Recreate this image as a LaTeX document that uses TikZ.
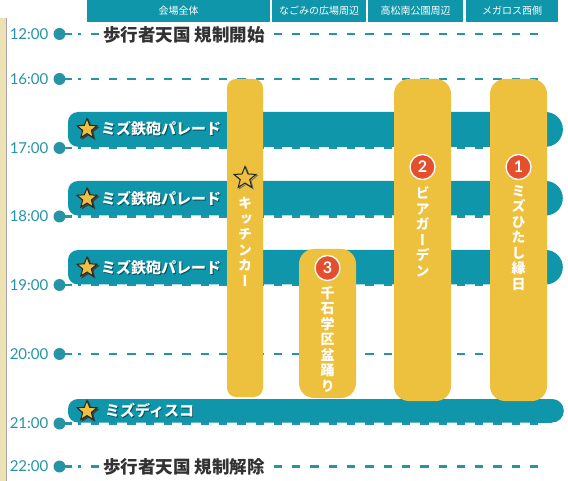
\documentclass[tikz,border=0pt]{standalone}
\usepackage{fontspec}
\setmainfont{Lato}
\newfontfamily\jp{Noto Sans CJK JP}
\newfontfamily\jpv{Noto Sans CJK JP}[RawFeature=+vert]
\usetikzlibrary{shapes.geometric}
\definecolor{tealC}{RGB}{16,150,170}
\definecolor{tealD}{RGB}{38,148,164}
\definecolor{yel}{RGB}{237,193,62}
\definecolor{redC}{RGB}{228,80,46}
\definecolor{beigeC}{RGB}{236,226,180}
\definecolor{darkT}{RGB}{50,50,50}
\definecolor{shadowT}{RGB}{0,80,90}
\begin{document}
\begin{tikzpicture}[x=1pt,y=-1pt,
  hdr/.style={fill=tealC, draw=none, inner sep=0, anchor=north west, minimum height=22pt,
              text=white, font=\jp\fontsize{10}{12}\selectfont},
  timelbl/.style={anchor=east, inner sep=0, text=tealD, font=\fontsize{15}{17}\selectfont},
  tdot/.style={circle, fill=tealD, minimum size=12pt, inner sep=0},
  dline/.style={tealD, line width=2.5pt, dash pattern=on 8.3pt off 10pt},
  sline/.style={tealD, line width=2.5pt},
  bigtxt/.style={anchor=west, fill=white, inner sep=3pt, text=darkT, font=\jp\bfseries\fontsize{17.5}{20}\selectfont},
  ptxt/.style={anchor=west, inner sep=0, text=white, font=\jp\bfseries\fontsize{15}{16}\selectfont},
  pshadow/.style={anchor=west, inner sep=0, text=shadowT, font=\jp\bfseries\fontsize{15}{16}\selectfont},
  pstar/.style={star, star points=5, star point ratio=2.3, minimum size=21pt, inner sep=0,
                fill=yel, draw=black!85, line width=1pt},
  sstar/.style={star, star points=5, star point ratio=2.3, minimum size=21pt, inner sep=0,
                fill=black!75, draw=black!75, line width=1pt},
  vtxt/.style={inner sep=0, align=center, text=white, font=\jpv\bfseries\fontsize{14}{15.5}\selectfont},
  numc/.style={circle, fill=redC, draw=white, line width=1.3pt, minimum size=25pt, inner sep=0,
               text=white, font=\bfseries\fontsize{16}{16}\selectfont}
]
\useasboundingbox (0,0) rectangle (568,481);
\fill[white] (0,0) rectangle (568,481);
% left beige edge
\fill[beigeC] (0,18) rectangle (6,481);
\draw[black!35, line width=0.6pt] (6.3,18) -- (6.3,481);

% header
\node[hdr, minimum width=183pt] (h1) at (87,0) {会場全体};
\node[hdr, minimum width=94pt] (h2) at (272,0) {なごみの広場周辺};
\node[hdr, minimum width=95pt] (h3) at (368,0) {高松南公園周辺};
\node[hdr, minimum width=92pt] (h4) at (466,0) {メガロス西側};

% time rows
\foreach \t/\y/\n in {12:00/34/a, 16:00/79/b, 17:00/148/c, 18:00/216.5/d, 19:00/285/e, 20:00/354/f, 21:00/423.5/g, 22:00/466.5/h}{
  \node[timelbl] (t\n) at (48.5,\y) {\t};
  \coordinate (k\n) at (72,\y);
  \coordinate (s\n) at (78,\y);
  \coordinate (e\n) at (538.3,\y);
  \draw[dline] (e\n) -- (s\n);
  \draw[sline] (59.5,\y) -- (k\n);
  \node[tdot] (d\n) at (59.5,\y) {};
}

% parade bars
\newcommand\paradebar[4]{% top, bottom, right-center, radius
  \fill[tealC, rounded corners=10pt] (68,#1) rectangle (#3,#2);
  \fill[tealC] (#3-20,#1) rectangle (#3,#2);
  \fill[tealC] (#3,{(#1+#2)/2}) circle (#4 pt);
}
\paradebar{112}{146.8}{545.5}{17.4}
\paradebar{181}{215.5}{545.5}{17.3}
\paradebar{250}{284.5}{545.5}{17.3}
\paradebar{399}{422.5}{552}{11.8}

% yellow bars
\fill[yel, rounded corners=9pt] (227,79) rectangle (263,397);
\fill[yel, rounded corners=15pt] (299,249) rectangle (356,398);
\fill[yel, rounded corners=15pt] (394,79) rectangle (451,401);
\fill[yel, rounded corners=15pt] (490,79) rectangle (547,401);

% start / end texts
\node[bigtxt] (open) at (100,34.5) {歩行者天国 規制開始};
\node[bigtxt] (close) at (100,467) {歩行者天国 規制解除};

% parade labels
\foreach \y/\n/\txt/\tx in {129/p1/ミズ鉄砲パレード/101, 198.5/p2/ミズ鉄砲パレード/101, 267.5/p3/ミズ鉄砲パレード/101, 411/p4/ミズディスコ/105}{
  \node[sstar] (ss\n) at (88.5,\y+1.5) {};
  \node[pstar] (st\n) at (87,\y) {};
  \node[pshadow] (sh\n) at (\tx+0.8,\y+0.8) {\txt};
  \node[ptxt] (\n) at (\tx,\y) {\txt};
}

% kitchen car
\node[star, star points=5, star point ratio=2.3, minimum size=23pt, inner sep=0,
      draw=black!55, line width=1pt] (kshadow) at (246.2,179.2) {};
\node[star, star points=5, star point ratio=2.3, minimum size=23pt, inner sep=0,
      fill=yel, draw=black!85, line width=1pt] (kstar) at (245,178) {};
\node[vtxt] (vk) at (245,242) {キ\\ッ\\チ\\ン\\カ\\ー};

% numbered events
\node[numc] (n2) at (422.5,167) {2};
\node[vtxt] (vb) at (422.5,232) {ビ\\ア\\ガ\\ー\\デ\\ン};
\node[numc] (n1) at (518.5,167) {1};
\node[vtxt] (ve) at (518.5,238) {ミ\\ズ\\ひ\\た\\し\\縁\\日};
\node[numc] (n3) at (327.5,268) {3};
\node[vtxt] (vo) at (327.5,339) {千\\石\\学\\区\\盆\\踊\\り};
\end{tikzpicture}
\end{document}
